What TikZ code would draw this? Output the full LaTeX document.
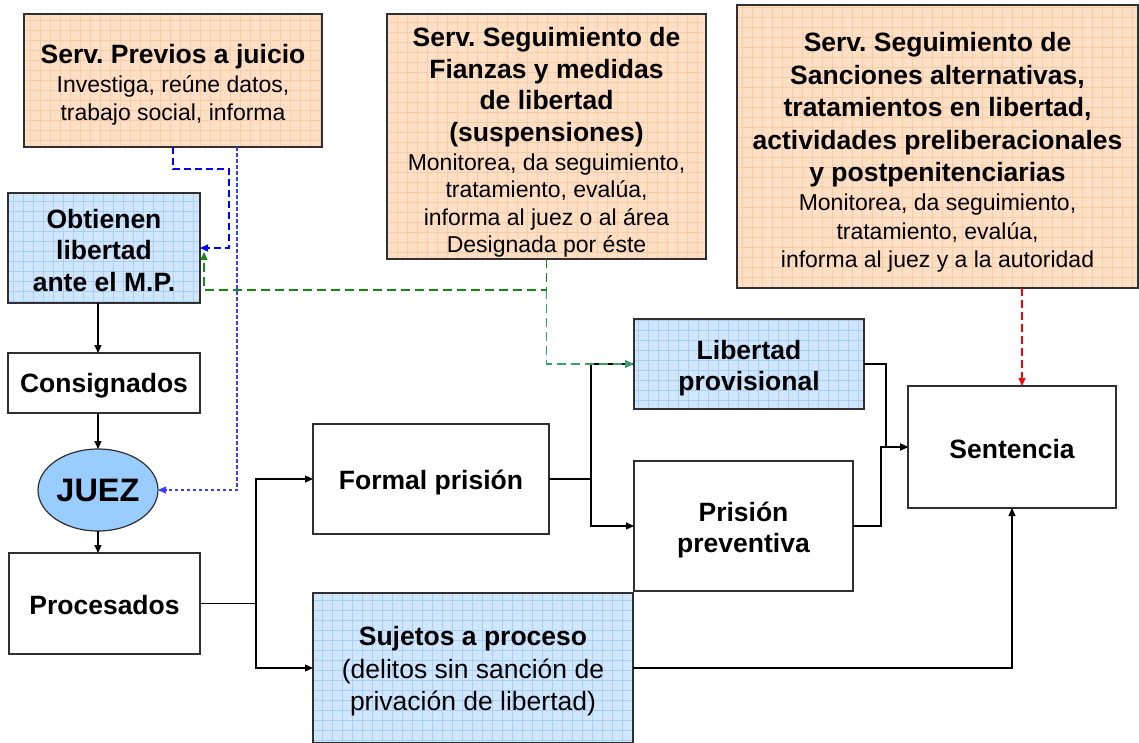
\documentclass[tikz,border=0pt]{standalone}
\usepackage{fontspec}
\setmainfont{Liberation Sans}
\usetikzlibrary{arrows.meta,shapes.geometric,calc}
\definecolor{peach}{HTML}{FDDFC6}
\definecolor{peachgrid}{HTML}{F8CCA4}
\definecolor{skyfill}{HTML}{CFE6FD}
\definecolor{skygrid}{HTML}{A8D0F6}
\definecolor{juezblue}{HTML}{99CCFF}
\definecolor{dgreen}{HTML}{138A13}
\definecolor{sgreen}{HTML}{3A9E6C}
\definecolor{lblue}{HTML}{3D3DFF}
\definecolor{edge}{HTML}{303030}
\frenchspacing
\newcommand\hdr[1]{{\bfseries\fontsize{26.5}{27.5}\selectfont #1}}
\newcommand\dn[1]{\rule{0pt}{\dimexpr0.73em+#1*2\relax}}
\begin{document}
\begin{tikzpicture}[x=1pt,y=-1pt,
  box/.style={draw=edge, line width=1.2pt, inner sep=0pt, outer sep=0pt, align=center,
    font=\bfseries\fontsize{26.5}{31.5}\selectfont},
  plainbox/.style={box, fill=white},
  gridbox/.style 2 args={box, fill=#1, path picture={\draw[#2, line width=0.6pt]
    (path picture bounding box.south west) grid[step=10pt] (path picture bounding box.north east);}},
  orangebox/.style={gridbox={peach}{peachgrid}, font=\fontsize{23}{27.5}\selectfont},
  bluebox/.style={gridbox={skyfill}{skygrid}},
  arr/.style={line width=1.2pt, black, -{Triangle[length=8pt,width=7pt]}},
  conn/.style={line width=1.2pt, black},
  bluedash/.style={line width=1.2pt, blue, dash pattern=on 7pt off 4pt, -{Triangle[length=8pt,width=7pt]}},
  bluedot/.style={line width=1.2pt, lblue, dash pattern=on 3.5pt off 2.5pt, -{Triangle[length=8pt,width=7pt]}},
  greendash/.style={line width=1.3pt, dash pattern=on 9pt off 5pt},
  reddash/.style={line width=1.2pt, red, dash pattern=on 8pt off 4pt, -{Triangle[length=8pt,width=7pt]}}
]
\useasboundingbox (0,0) rectangle (1139,742);
\fill[white] (0,0) rectangle (1139,742);

% top service boxes
\node[orangebox, minimum width=298pt, minimum height=133pt] (prev) at (173,80.5)
  {\hdr{\dn{4pt}Serv. Previos a juicio}\\[1.5pt] Investiga, reúne datos,\\ trabajo social, informa};
\node[orangebox, minimum width=319pt, minimum height=245pt] (fian) at (546.5,136.5)
  {\hdr{\dn{6pt}Serv. Seguimiento de}\\[4pt] \hdr{Fianzas y medidas}\\[4pt] \hdr{de libertad}\\[4pt]
   \hdr{(suspensiones)}\\[1.5pt] Monitorea, da seguimiento,\\ tratamiento, evalúa,\\
   informa al juez o al área\\ Designada por éste};
\node[orangebox, minimum width=401pt, minimum height=283pt, font=\fontsize{23}{28.5}\selectfont] (sanc) at (937.5,146.5)
  {\hdr{\dn{6pt}Serv. Seguimiento de}\\[4pt] \hdr{Sanciones alternativas,}\\[4pt] \hdr{tratamientos en libertad,}\\[4pt]
   \hdr{actividades preliberacionales}\\[4pt] \hdr{y postpenitenciarias}\\[0.5pt] Monitorea, da seguimiento,\\
   tratamiento, evalúa,\\ informa al juez y a la autoridad};

% left column
\node[bluebox, minimum width=192pt, minimum height=110pt] (obt) at (104,248)
  {\dn{2pt}Obtienen\\ libertad\\ ante el M.P.};
\node[plainbox, minimum width=192pt, minimum height=60pt] (cons) at (104,383) {\dn{3pt}Consignados};
\node[draw=edge, line width=1.2pt, fill=juezblue, ellipse, inner sep=0pt, outer sep=0pt,
  minimum width=120pt, minimum height=82pt, font=\bfseries\fontsize{32.5}{36}\selectfont] (juez) at (98,490) {JUEZ};
\node[plainbox, minimum width=191pt, minimum height=101pt] (proc) at (104.5,603.5) {\dn{1.5pt}Procesados};

% middle / right
\node[plainbox, minimum width=236pt, minimum height=110pt] (formal) at (431,479) {\dn{4pt}Formal prisión};
\node[bluebox, minimum width=230pt, minimum height=90pt] (libprov) at (749,364) {\dn{4pt}Libertad\\ provisional};
\node[plainbox, minimum width=219pt, minimum height=130pt] (prisprev) at (743.5,526) {\dn{4pt}Prisión\\ preventiva};
\node[plainbox, minimum width=208pt, minimum height=122pt] (sent) at (1012,447) {\dn{1.5pt}Sentencia};
\node[bluebox, minimum width=320pt, minimum height=150pt, font=\fontsize{26.5}{32}\selectfont] (suj) at (473,668)
  {\hdr{\dn{3pt}Sujetos a proceso}\\[0.5pt] (delitos sin sanción de\\ privación de libertad)};

% black connectors
\draw[arr] (obt.south -| juez.center) -- (cons.north -| juez.center);
\draw[arr] (cons.south -| juez.center) -- (juez.north);
\draw[arr] (juez.south) -- (proc.north -| juez.center);
\draw[arr] (proc.east) -- ++(56,0) |- (formal.west);
\draw[arr] (proc.east) -- ++(56,0) |- (suj.west);
\draw[conn] (formal.east) -- ++(42,0) |- (libprov.west);
\draw[arr] (formal.east) -- ++(42,0) |- (prisprev.west);
\draw[arr] (libprov.east) -- ++(22,0) |- (sent.west);
\draw[arr] (prisprev.east) -- ++(28,0) |- (sent.west);
\draw[arr] (suj.east) -| (sent.south);

% dashed connectors
\draw[bluedash] (prev.south) -- ++(0,22) -| ([xshift=29pt]obt.east) -- (obt.east);
\draw[bluedot] ([xshift=64pt]prev.south) |- (juez.east);
\coordinate (gj) at ([yshift=-31pt]fian.south);
\coordinate (gtip) at ([xshift=4pt,yshift=-4pt]obt.east);
\draw[greendash, dgreen, -{Triangle[length=8pt,width=7pt]}] (fian.south) -- (gj) -| (gtip);
\draw[greendash, sgreen, -{Triangle[length=9pt,width=8pt]}] (gj) |- (libprov.west);
\draw[reddash] ([xshift=10pt]sent.north |- sanc.south) -- ([xshift=10pt]sent.north);
\end{tikzpicture}
\end{document}
